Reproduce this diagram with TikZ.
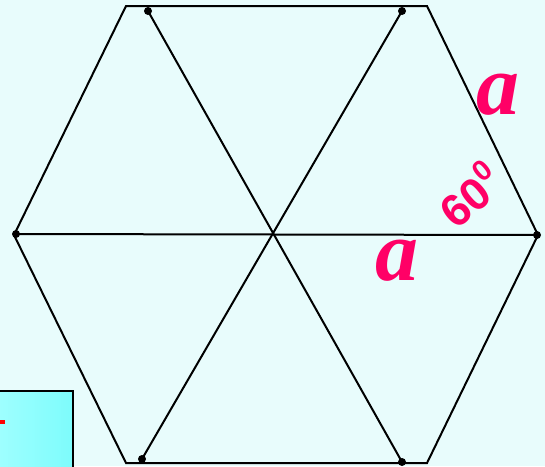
\documentclass[tikz,border=0pt]{standalone}
\usepackage{fontspec}
\setmainfont{Liberation Serif}
\newfontfamily\labsans{Liberation Sans}
\definecolor{bgc}{RGB}{232,252,252}
\definecolor{magc}{RGB}{255,0,102}
\definecolor{boxl}{RGB}{160,255,255}
\definecolor{boxr}{RGB}{125,252,252}
\begin{document}
\begin{tikzpicture}[x=1pt,y=-1pt,
  edge/.style={line width=2pt,black,line join=miter},
  dotnode/.style={circle,fill=black,inner sep=0pt,minimum size=8pt},
  alabel/.style={text=magc,font=\fontsize{86}{86}\selectfont\bfseries\itshape,inner sep=0pt},
  anglab/.style={text=magc,font=\labsans\fontsize{45}{45}\selectfont\bfseries,inner sep=0pt}]
\fill[bgc] (0,0) rectangle (545,466);
\useasboundingbox (0,0) rectangle (545,466);
% box bottom-left
\draw[line width=2pt,left color=boxl,right color=boxr] (-5,391) rectangle (73,470);
\fill[red] (0,419.5) rectangle (5,423.5);
% hexagon
\coordinate (h1) at (126,6);
\coordinate (h2) at (427,6);
\coordinate (h3) at (538,235);
\coordinate (h4) at (427,463);
\coordinate (h5) at (126,463);
\coordinate (h6) at (14,235);
\draw[edge] (h1) -- (h2) -- (h3) -- (h4) -- (h5) -- (h6) -- cycle;
\node[dotnode] (d1) at (148,11) {};
\node[dotnode] (d2) at (402,11) {};
\node[dotnode] (d3) at (537,235) {};
\node[dotnode] (d4) at (16,234) {};
\node[dotnode] (d5) at (142,459) {};
\node[dotnode] (d6) at (402,462) {};
\draw[edge] (d1.center) -- (d6.center);
\draw[edge] (d2.center) -- (d5.center);
\draw[edge] (d4.center) -- (d3.center);
% labels
\node[alabel] (a1) at (498,95) {a};
\node[alabel] (a2) at (397,261) {a};
\node[anglab,rotate=40] (ang) at (469,194) {60\raisebox{0.42em}{\fontsize{29}{29}\selectfont 0}};
\end{tikzpicture}
\end{document}
